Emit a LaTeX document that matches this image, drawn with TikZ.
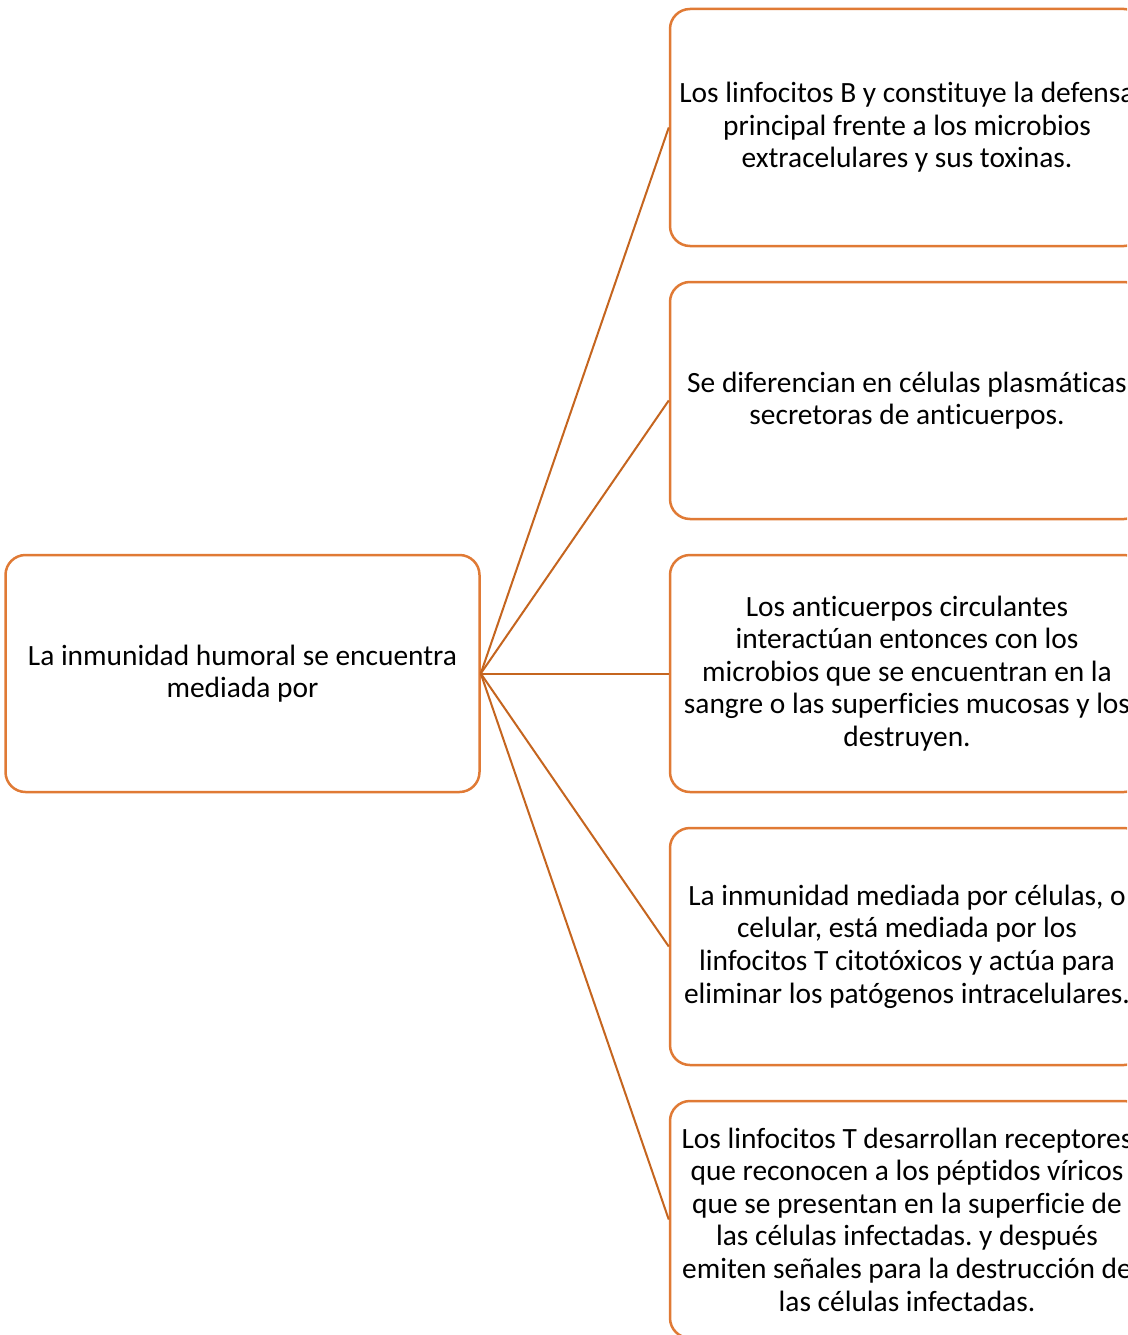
\documentclass[tikz,border=0pt]{standalone}
\usepackage{fontspec}
\setmainfont{Carlito}[Ligatures=NoCommon]
\frenchspacing
\definecolor{boxorange}{HTML}{E07A35}
\definecolor{lineorange}{HTML}{C5651F}
\begin{document}
\begin{tikzpicture}[x=1pt,y=-1pt,
  box/.style={draw=boxorange, line width=2.5pt, rounded corners=20pt, fill=white,
    minimum width=474pt, minimum height=237pt, align=center, inner sep=0pt,
    font=\fontsize{29.4}{32.6}\selectfont},
  link/.style={draw=lineorange, line width=2pt}]
\useasboundingbox (0,0) rectangle (1127,1335);
\clip (0,0) rectangle (1127,1335);
\fill[white] (0,0) rectangle (1127,1335);
\node[box] (left) at (242.5,673.5) {La inmunidad humoral se encuentra\\mediada por};
\node[box] (r1) at (907,127.5) {Los linfocitos B y constituye la defensa\\principal frente a los microbios\\extracelulares y sus toxinas.};
\node[box] (r2) at (907,400.5) {Se diferencian en células plasmáticas\\secretoras de anticuerpos.};
\node[box] (r3) at (907,673.5) {Los anticuerpos circulantes\\interactúan entonces con los\\microbios que se encuentran en la\\sangre o las superficies mucosas y los\\destruyen.};
\node[box] (r4) at (907,946.5) {La inmunidad mediada por células, o\\celular, está mediada por los\\linfocitos T citotóxicos y actúa para\\eliminar los patógenos intracelulares.};
\node[box] (r5) at (907,1219.5) {Los linfocitos T desarrollan receptores\\que reconocen a los péptidos víricos\\que se presentan en la superficie de\\las células infectadas. y después\\emiten señales para la destrucción de\\las células infectadas.};
\foreach \r in {r1,r2,r3,r4,r5}
  \draw[link] (left.east) -- (\r.west);
\end{tikzpicture}
\end{document}
